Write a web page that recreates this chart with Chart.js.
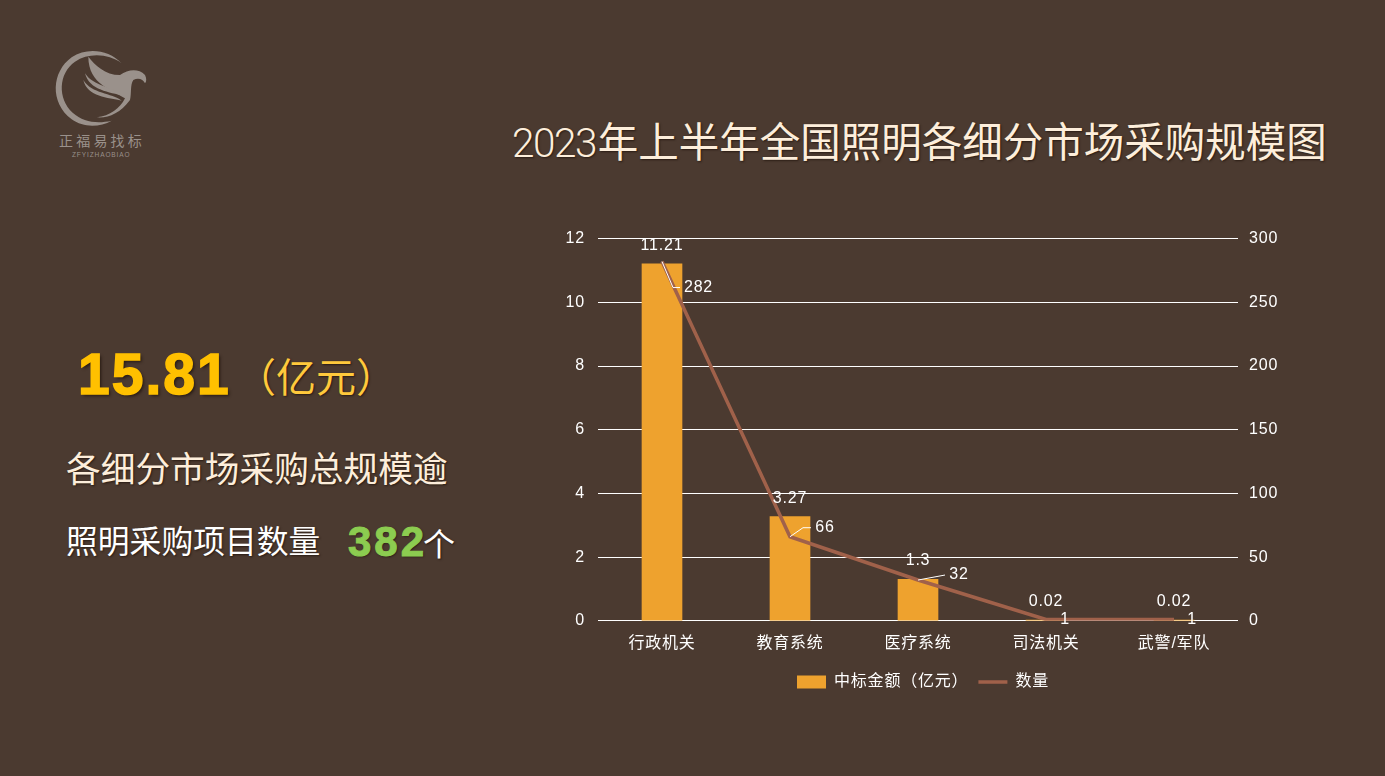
<!DOCTYPE html>
<html lang="zh">
<head>
<meta charset="utf-8">
<title>2023年上半年全国照明各细分市场采购规模图</title>
<script src="https://cdn.jsdelivr.net/npm/chart.js@4/dist/chart.umd.min.js"></script>
<style>
  html, body { margin: 0; padding: 0; }
  body { width: 1385px; height: 776px; background: #4b3a30; position: relative; overflow: hidden;
         font-family: "Liberation Sans", "Noto Sans CJK SC", sans-serif; }
  .txt { position: absolute; white-space: nowrap; line-height: 1; }
  #chart { position: absolute; left: 561px; top: 216px; }
  #logo { position: absolute; left: 30px; top: 30px; }
  #title { left: 512px; top: 123px; font-size: 40.5px; color: #fdeedb; text-shadow: 1px 1px 2px #2a1c14; }
  #title span { font-family: "Roboto", sans-serif; font-weight: 300; letter-spacing: -1.5px; margin-right: 2px; }
  #total { left: 78px; top: 346px; font-size: 57px; font-weight: bold; letter-spacing: 2px; -webkit-text-stroke: 1.5px #ffc000; color: #ffc000; text-shadow: 2px 2px 3px #2a1c14; }
  #unit { left: 236px; top: 358px; font-size: 40px; color: #ffc93c; text-shadow: 1px 1px 2px #2a1c14; }
  #desc { left: 66px; top: 453px; font-size: 34.7px; color: #fdeedb; text-shadow: 1px 1px 2px #2a1c14; }
  #count { left: 66px; top: 527px; font-size: 31.8px; color: #fff; text-shadow: 1px 1px 2px #2a1c14; }
  #countNum { left: 348px; top: 521px; font-size: 42px; font-weight: bold; letter-spacing: 3px; -webkit-text-stroke: 1px #8ccc50; color: #8ccc50; text-shadow: 1px 1px 2px #2a1c14; }
  #countUnit { left: 423px; top: 529px; font-size: 32px; color: #fff; text-shadow: 1px 1px 2px #2a1c14; }
  #logoName { left: 59px; top: 134px; font-size: 14px; letter-spacing: 3.2px; color: #9a918b; }
  #logoEn { left: 72px; top: 152px; font-size: 6.5px; letter-spacing: 0.9px; color: #9a918b; }
</style>
</head>
<body>
<svg id="logo" width="150" height="100" viewBox="0 0 450 300" fill="#9a918b">
  <path d="M275 100 C235 58 170 52 125 82 C65 125 58 218 125 268 C160 294 210 292 245 272 C200 282 160 276 128 248 C82 205 85 130 135 95 C175 68 235 70 275 100 Z"/>
  <path d="M175 80 C195 105 225 135 270 135 C295 118 325 115 345 135 C350 145 350 155 345 160 C340 148 325 142 310 150 C300 165 305 190 300 210 C270 250 235 265 200 262 C240 258 270 235 285 205 C250 180 175 165 175 80 Z"/>
  <path d="M165 130 C190 170 250 170 280 198 C240 186 178 182 165 130 Z"/>
  <path d="M160 150 C185 192 245 188 275 212 C235 202 172 202 160 150 Z"/>
</svg>
<div class="txt" id="logoName">正福易找标</div>
<div class="txt" id="logoEn">ZFYIZHAOBIAO</div>
<div class="txt" id="title"><span>2023</span>年上半年全国照明各细分市场采购规模图</div>
<div class="txt" id="total">15.81</div>
<div class="txt" id="unit">（亿元）</div>
<div class="txt" id="desc">各细分市场采购总规模逾</div>
<div class="txt" id="count">照明采购项目数量</div>
<div class="txt" id="countNum">382</div>
<div class="txt" id="countUnit">个</div>
<canvas id="chart" width="724" height="484"></canvas>
<script>
// Chart data
const categories = ['行政机关', '教育系统', '医疗系统', '司法机关', '武警/军队'];
const amountValues = [11.21, 3.27, 1.3, 0.02, 0.02];
const countValues = [282, 66, 32, 1, 1];
const amountTicks = [0, 2, 4, 6, 8, 10, 12];
const countTicks = [0, 50, 100, 150, 200, 250, 300];

// Label placement, relative to each mark
const amountLabelOffsets = [[0, -18], [0, -18], [0, -18.5], [0, -19], [0, -19]];
const countLabelOffsets = [[36.5, 26], [35, -9], [41, -5], [19, 0], [18, 0]];
const countLeaders = [[[11, 26], [18, 26]], [[13, -9], [21, -9]], [[27, -5]], [], []];

const FONT_FAMILY = '"Liberation Sans", "Noto Sans CJK SC", sans-serif';
const TEXT_COLOR = '#ffffff';
const LETTER_SPACING = '0.8px';

// The reference text is slightly tracked out, canvas keeps this between draws
const textSpacing = {
  id: 'textSpacing',
  beforeUpdate(chart) {
    chart.ctx.letterSpacing = LETTER_SPACING;
  },
  beforeDraw(chart) {
    chart.ctx.letterSpacing = LETTER_SPACING;
  }
};

// Draws value labels and leader lines on top of the marks
const valueLabels = {
  id: 'valueLabels',
  afterDatasetsDraw(chart) {
    const ctx = chart.ctx;
    const bars = chart.getDatasetMeta(0).data;
    const points = chart.getDatasetMeta(1).data;

    ctx.save();
    ctx.font = '16px ' + FONT_FAMILY;
    ctx.fillStyle = TEXT_COLOR;
    ctx.strokeStyle = TEXT_COLOR;
    ctx.lineWidth = 1;
    ctx.textAlign = 'center';
    ctx.textBaseline = 'middle';

    bars.forEach((bar, i) => {
      const off = amountLabelOffsets[i];
      ctx.fillText(String(amountValues[i]), bar.x + off[0], bar.y + off[1]);
    });

    points.forEach((pt, i) => {
      if (countLeaders[i].length) {
        ctx.beginPath();
        ctx.moveTo(pt.x, pt.y);
        countLeaders[i].forEach(p => ctx.lineTo(pt.x + p[0], pt.y + p[1]));
        ctx.stroke();
      }
      const off = countLabelOffsets[i];
      ctx.fillText(String(countValues[i]), pt.x + off[0], pt.y + off[1]);
    });
    ctx.restore();
  }
};

new Chart(document.getElementById('chart'), {
  data: {
    labels: categories,
    datasets: [
      {
        type: 'bar',
        label: '中标金额（亿元）',
        data: amountValues,
        yAxisID: 'y',
        order: 2,
        backgroundColor: '#eea22e',
        barThickness: 40,
        pointStyle: 'rect'
      },
      {
        type: 'line',
        label: '数量',
        data: countValues,
        yAxisID: 'y1',
        order: 1,
        borderColor: '#a0614a',
        backgroundColor: '#a0614a',
        borderWidth: 3.5,
        tension: 0,
        pointRadius: 0,
        pointStyle: 'line'
      }
    ]
  },
  options: {
    responsive: false,
    animation: false,
    layout: { padding: { top: 14 } },
    plugins: {
      tooltip: { enabled: false },
      legend: {
        position: 'bottom',
        labels: {
          color: TEXT_COLOR,
          font: { family: FONT_FAMILY, size: 16 },
          usePointStyle: true,
          pointStyleWidth: 29,
          boxHeight: 13,
          padding: 10,
          sort: (a, b) => a.datasetIndex - b.datasetIndex
        }
      }
    },
    scales: {
      x: {
        afterFit: s => { s.height += 6; },
        grid: { display: false },
        border: { display: false },
        ticks: { color: TEXT_COLOR, font: { family: FONT_FAMILY, size: 16 }, padding: 5, maxRotation: 0 }
      },
      y: {
        position: 'left',
        min: 0,
        max: 12,
        afterFit: s => { s.width = 37; },
        afterBuildTicks: s => { s.ticks = amountTicks.map(v => ({ value: v })); },
        grid: { color: '#ffffff', lineWidth: 1, drawTicks: false },
        border: { display: false },
        ticks: { color: TEXT_COLOR, font: { family: FONT_FAMILY, size: 16 }, padding: 13 }
      },
      y1: {
        position: 'right',
        min: 0,
        max: 300,
        afterFit: s => { s.width = 47; },
        afterBuildTicks: s => { s.ticks = countTicks.map(v => ({ value: v })); },
        grid: { display: false, drawTicks: false },
        border: { display: false },
        ticks: { color: TEXT_COLOR, font: { family: FONT_FAMILY, size: 16 }, padding: 11 }
      }
    }
  },
  plugins: [textSpacing, valueLabels]
});
</script>
</body>
</html>
